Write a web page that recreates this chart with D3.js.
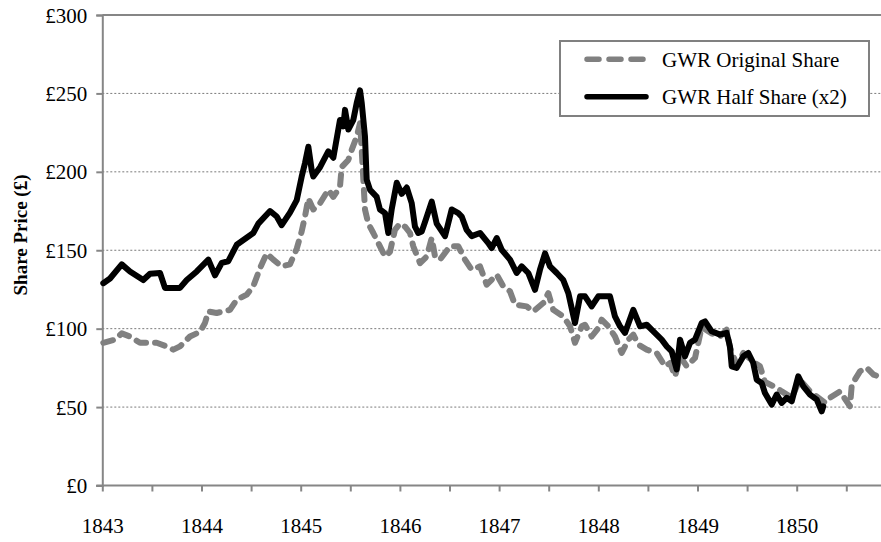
<!DOCTYPE html>
<html>
<head>
<meta charset="utf-8">
<script src="https://cdn.jsdelivr.net/npm/d3@7"></script>
<style>
  html, body { margin: 0; padding: 0; background: #fff; }
  svg { display: block; }
  svg text { font-family: "Liberation Serif", "Times New Roman", Times, "DejaVu Serif", serif; }
</style>
</head>
<body>
<svg id="chart" width="881" height="542"></svg>
<script>
// ---- Data ----
const halfYears = [1843.01,1843.078,1843.196,1843.279,1843.413,1843.481,1843.582,1843.632,1843.783,1843.851,1843.952,
  1844.069,1844.136,1844.204,1844.270,1844.355,1844.522,1844.573,1844.691,1844.758,1844.808,1844.892,1844.960,
  1845.010,1845.043,1845.077,1845.111,1845.127,1845.195,1845.278,1845.329,1845.396,1845.429,1845.447,1845.480,
  1845.530,1845.565,1845.598,1845.615,1845.648,1845.665,1845.699,1845.766,1845.799,1845.850,1845.883,1845.917,1845.968,
  1846.018,1846.069,1846.119,1846.152,1846.185,1846.220,1846.253,1846.321,1846.371,1846.455,1846.522,1846.589,
  1846.623,1846.673,1846.724,1846.808,1846.891,1846.925,1846.976,
  1847.026,1847.110,1847.177,1847.228,1847.294,1847.362,1847.412,1847.463,1847.513,1847.581,1847.647,1847.698,
  1847.765,1847.816,1847.866,1847.933,
  1848.000,1848.118,1848.168,1848.219,1848.269,1848.353,1848.421,1848.488,1848.555,1848.639,1848.690,1848.740,
  1848.790,1848.824,1848.874,1848.925,1848.975,
  1849.042,1849.076,1849.143,1849.227,1849.294,1849.327,1849.345,1849.395,1849.462,1849.512,1849.562,1849.597,
  1849.647,1849.680,1849.748,1849.798,1849.849,1849.899,1849.950,
  1850.016,1850.067,1850.134,1850.202,1850.252,1850.268];
const halfValues = [129,132,141,136.5,131,135,135.5,126,126,131,136.5,
  144,134,142,143,153.5,161,167,175,171.5,166,174,182,
  197,205.5,216,201,197,203,213,209,233,229,239.5,227,
  233,244,252,244,222.5,195,188.5,184,176,173.7,161,176,193,
  186,190,180,165,161,162,168,181,167,159,176,173.7,
  171.5,163,159,161,154.6,151.4,157.8,
  150.3,144,135.5,139.7,135.5,124.8,137.6,148,139.7,135.5,131,122.7,
  103.6,120.6,120.6,114.2,
  120.6,120.6,107.8,101.5,97.3,112,101.5,102.5,98.3,93,88.7,85.5,
  74,93,82.4,91,93,
  103.6,104.6,98.3,96.2,97.3,88.7,76,75,82.4,84.5,78.1,67.5,
  65.4,59,51.6,58,52.7,55.9,53.7,
  69.6,63.2,58,54.8,47.3,50.5];

const origYears = [1843.01,1843.128,1843.196,1843.279,1843.380,1843.548,1843.649,1843.716,1843.783,1843.884,1843.985,
  1844.035,1844.069,1844.153,1844.220,1844.287,1844.355,1844.456,1844.522,1844.590,1844.657,1844.724,1844.808,1844.892,1844.960,
  1845.010,1845.043,1845.077,1845.127,1845.195,1845.278,1845.329,1845.396,1845.413,1845.480,1845.514,1845.565,1845.598,
  1845.615,1845.648,1845.681,1845.732,1845.799,1845.850,1845.900,1845.950,
  1846.001,1846.052,1846.102,1846.135,1846.203,1846.270,1846.321,1846.354,1846.404,1846.505,1846.589,1846.656,
  1846.724,1846.808,1846.875,1846.976,
  1847.042,1847.110,1847.160,1847.278,1847.345,1847.446,1847.496,1847.546,1847.647,1847.715,1847.765,1847.833,
  1847.866,1847.933,
  1848.000,1848.034,1848.101,1848.168,1848.236,1848.303,1848.353,1848.404,1848.488,1848.589,1848.673,1848.724,
  1848.774,1848.824,1848.891,1848.975,
  1849.042,1849.143,1849.227,1849.294,1849.327,1849.395,1849.462,1849.562,1849.630,1849.680,1849.798,1849.849,1849.950,
  1850.030,1850.134,1850.285,1850.335,1850.436,1850.537,1850.554,1850.587,1850.638,1850.706,1850.774,1850.822,1850.850];
const origValues = [91,93,97,95,91,91,88.7,86.6,88.7,95,98,
  103.6,111,110,111,112,118.5,121.7,127,138.6,148,144,139.7,141,151,
  162,171.5,183,176,180,188.5,184,190.5,203,207.6,214,222.5,231,
  214,176,167,161,152.5,146,149,163,
  167,165,161,152.5,141.8,146,157.8,146,144,152.5,152.5,144,
  137.6,139.7,128,134.4,
  127,123.8,115.3,114.2,111,116.4,122.7,112,107.8,101.5,91,101.5,
  102.5,95,
  100.4,105.7,101.5,95,84.5,93,96.2,89.8,86.6,84.5,76,78.1,
  69.6,82.4,76,81.3,
  101,97,95,99.4,88,77,84.5,79,76,66,62.2,60,56,
  67.5,60,52.7,55.9,60,50.5,63.2,67.5,72.8,75,70.7,69.6,72];

const yearTicks = [1843,1844,1845,1846,1847,1848,1849,1850];
const priceTicks = [0,50,100,150,200,250,300];
const seriesNames = ["GWR Original Share", "GWR Half Share (x2)"];
const yTitle = "Share Price (£)";

// ---- Layout ----
const svg = d3.select("#chart");
const W = 881, H = 542;
const x0 = 102.3, yBottom = 485.5, yTop = 15;
const pxPerYear = 99.2;
const serif = '"Liberation Serif", "Times New Roman", Times, "DejaVu Serif", serif';

const x = d3.scaleLinear().domain([1843, 1851]).range([x0, x0 + 8 * pxPerYear]);
const y = d3.scaleLinear().domain([0, 300]).range([yBottom, yTop]);

const axisColor = "#868686";

// gridlines (dotted) for 50..250, top solid
svg.append("g").selectAll("line.grid")
  .data(priceTicks.filter(d => d > 0 && d < 300))
  .join("line")
  .attr("x1", x0).attr("x2", W)
  .attr("y1", d => y(d)).attr("y2", d => y(d))
  .attr("stroke", "#7a7a7a").attr("stroke-width", 1)
  .attr("stroke-dasharray", "2,2");

svg.append("line")
  .attr("x1", x0).attr("x2", W).attr("y1", y(300)).attr("y2", y(300))
  .attr("stroke", axisColor).attr("stroke-width", 2);

// Y axis
const yAxis = d3.axisLeft(y).tickValues(priceTicks).tickSize(6).tickFormat(d => "£" + d);
const gy = svg.append("g").attr("transform", `translate(${x0},0)`).call(yAxis)
  .attr("font-family", serif);
gy.select(".domain").attr("stroke", axisColor).attr("stroke-width", 2);
gy.selectAll(".tick line").attr("stroke", axisColor).attr("stroke-width", 2);
gy.selectAll(".tick text").attr("font-size", 21).attr("fill", "#000")
  .style("font-family", serif)
  .attr("x", -15).attr("dy", "0.34em");

// X axis: half-year ticks, labels at years
const halfTicks = d3.range(1843, 1851.01, 0.5);
const xAxis = d3.axisBottom(x).tickValues(halfTicks).tickSize(6)
  .tickFormat(d => yearTicks.includes(d) ? String(d) : "");
const gx = svg.append("g").attr("transform", `translate(0,${yBottom})`).call(xAxis)
  .attr("font-family", serif);
gx.select(".domain").remove();
gx.append("line").attr("x1", x0 - 6).attr("x2", W).attr("y1", 0).attr("y2", 0)
  .attr("stroke", axisColor).attr("stroke-width", 2);
gx.selectAll(".tick line").attr("stroke", axisColor).attr("stroke-width", 2);
gx.selectAll(".tick text").attr("font-size", 21).attr("fill", "#000")
  .style("font-family", serif)
  .attr("y", 47).attr("dy", 0);

// Y title
svg.append("text")
  .attr("transform", `translate(27,235) rotate(-90)`)
  .attr("text-anchor", "middle")
  .style("font-family", serif)
  .attr("font-size", 19).attr("font-weight", "bold")
  .text(yTitle);

// Lines
const line = d3.line().x(d => x(d[0])).y(d => y(d[1]));
const origData = origYears.map((d, i) => [d, origValues[i]]);
const halfData = halfYears.map((d, i) => [d, halfValues[i]]);

svg.append("path").datum(origData)
  .attr("d", line).attr("fill", "none")
  .attr("stroke", "#808080").attr("stroke-width", 6)
  .attr("stroke-linecap", "round").attr("stroke-linejoin", "round")
  .attr("stroke-dasharray", "10,9");

svg.append("path").datum(halfData)
  .attr("d", line).attr("fill", "none")
  .attr("stroke", "#000").attr("stroke-width", 6)
  .attr("stroke-linecap", "round").attr("stroke-linejoin", "round");

// Legend
const lg = svg.append("g");
lg.append("rect").attr("x", 560).attr("y", 41).attr("width", 309).attr("height", 75)
  .attr("fill", "#fff").attr("stroke", "#808080").attr("stroke-width", 2);
const items = [
  {name: seriesNames[0], color: "#808080", dash: "12,10", ly: 59.3, ty: 67.3},
  {name: seriesNames[1], color: "#000", dash: null, ly: 96.7, ty: 104}
];
items.forEach(it => {
  lg.append("line").attr("x1", 587).attr("x2", 646).attr("y1", it.ly).attr("y2", it.ly)
    .attr("stroke", it.color).attr("stroke-width", 5.5).attr("stroke-linecap", "round")
    .attr("stroke-dasharray", it.dash);
  lg.append("text").attr("x", 662).attr("y", it.ty).attr("font-size", 21)
    .style("font-family", serif).text(it.name);
});
</script>
</body>
</html>
